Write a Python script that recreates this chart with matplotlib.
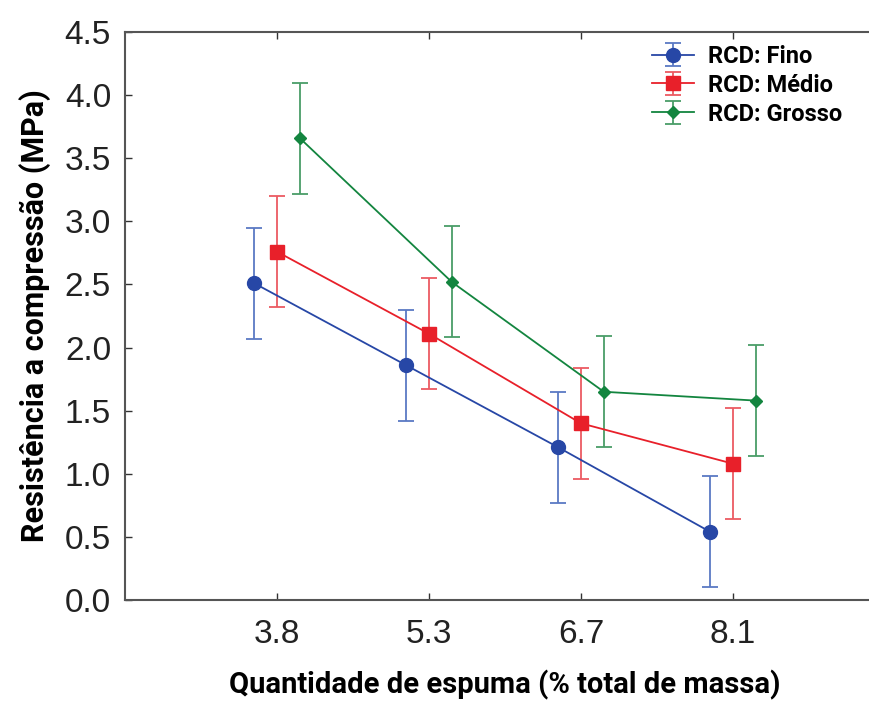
import numpy as np
import matplotlib.pyplot as plt

# Data
espuma = ['3.8', '5.3', '6.7', '8.1']
fino = [2.51, 1.86, 1.21, 0.54]
medio = [2.76, 2.11, 1.40, 1.08]
grosso = [3.66, 2.52, 1.65, 1.58]
fino_err = [0.44, 0.44, 0.44, 0.44]
medio_err = [0.44, 0.44, 0.44, 0.44]
grosso_err = [0.44, 0.44, 0.44, 0.44]

series = [
    ('RCD: Fino', fino, fino_err, '#2747a6', '#5b79c4', 'o', 10, -0.15),
    ('RCD: Médio', medio, medio_err, '#e8202a', '#ec5a62', 's', 9.5, 0.0),
    ('RCD: Grosso', grosso, grosso_err, '#13853f', '#4a9d68', 'D', 6.5, 0.15),
]

fig = plt.figure(figsize=(8.69, 7.02), dpi=100)
ax = fig.add_axes([0.1438, 0.1453, 0.8746, 0.809])

x = np.arange(1, len(espuma) + 1)
for label, vals, err, col, ecol, mk, ms, off in series:
    ax.errorbar(x + off, vals, yerr=err, color=col, ecolor=ecol, marker=mk,
                markersize=ms, linewidth=1.3, elinewidth=1.3, capsize=6,
                capthick=1.3, label=label)

ax.set_xlim(0, 5)
ax.set_ylim(0, 4.5)
ax.set_xticks(x)
ax.set_xticklabels(espuma)
ax.set_yticks(np.arange(0, 4.51, 0.5))
ax.set_yticklabels([f'{v:.1f}' for v in np.arange(0, 4.51, 0.5)])
ax.tick_params(direction='in', length=5, width=1, colors='#333333',
               labelsize=24, labelcolor='#222222', top=True, pad=10)
ax.tick_params(axis='x', pad=14)
for t in ax.get_xticklabels() + ax.get_yticklabels():
    t.set_family('Liberation Sans')
for s in ax.spines.values():
    s.set_color('#555555')
    s.set_linewidth(1.5)

ax.set_xlabel('Quantidade de espuma (% total de massa)', fontsize=21,
              fontweight='bold', family='Roboto', labelpad=14)
ax.set_ylabel('Resistência a compressão (MPa)', fontsize=22,
              fontweight='bold', family='Roboto', labelpad=10)

leg = ax.legend(loc='upper left', bbox_to_anchor=(0.665, 1.015), frameon=False,
                prop={'family': 'Roboto', 'weight': 'bold', 'size': 17},
                handlelength=1.8, handletextpad=0.6, labelspacing=0.25)

fig.savefig('out.png', dpi=100)
